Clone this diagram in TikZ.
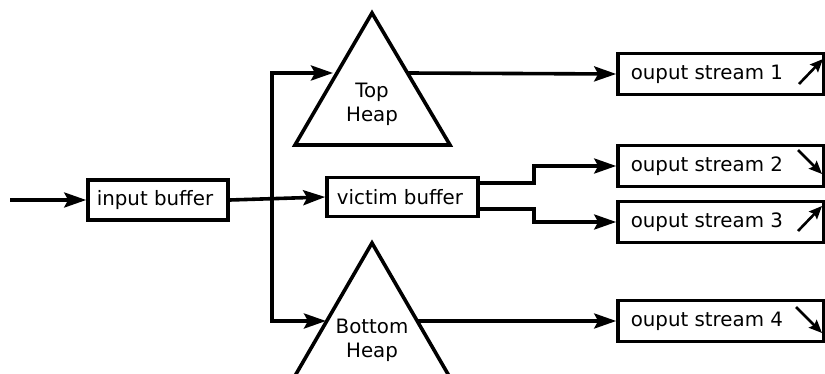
\documentclass[tikz,border=0pt]{standalone}
\usepackage{fontspec}
\setmainfont{DejaVu Sans}
\usetikzlibrary{arrows.meta}
\begin{document}
\begin{tikzpicture}[x=1pt,y=-1pt,
  line width=3.6pt,
  conn/.style={line width=3.6pt,-{Stealth[length=22pt,width=15pt,inset=4pt]}},
  plain/.style={line width=3.6pt},
  boxr/.style={draw,line width=3.6pt,rectangle,inner sep=0pt},
  lbl/.style={font=\fontsize{19.8}{23}\selectfont,inner sep=0pt},
  small/.style={line width=2.6pt,-{Stealth[length=13pt,width=11pt,inset=2pt]}}]
\useasboundingbox (0,0) rectangle (825,374);
% input buffer
\node[boxr,minimum width=140pt,minimum height=40pt] (ib) at (158,200) {};
\node[lbl] (ibt) at (155,200) {input buffer};
\coordinate (in) at (10,200);
\draw[conn] (in) -- (ib.west);
% victim buffer
\node[boxr,minimum width=151pt,minimum height=39pt] (vb) at (402.5,197) {};
\node[lbl] (vbt) at (400,197) {victim buffer};
\draw[conn] (ib.east) -- (vb.west);
% vertical bus
\coordinate (bt) at (272,73);
\coordinate (bb) at (272,321);
\draw[plain] (bt) -- (bb);
% heaps
\coordinate (tha) at (372,13);
\coordinate (thl) at (295,145);
\coordinate (thr) at (450,145);
\draw[line join=miter] (tha) -- (thr) -- (thl) -- cycle;
\node[lbl,align=center,font=\fontsize{19.8}{24}\selectfont] (tht) at (372,104) {Top\\Heap};
\coordinate (bha) at (372,243);
\coordinate (bhl) at (292,381);
\coordinate (bhr) at (452,381);
\draw[line join=miter] (bha) -- (bhr) -- (bhl) -- cycle;
\node[lbl,align=center,font=\fontsize{19.8}{24}\selectfont] (bht) at (372,340) {Bottom\\Heap};
\coordinate (thin) at (333,73);
\coordinate (thout) at (408,73);
\coordinate (bhin) at (326,321);
\coordinate (bhout) at (418,321);
\draw[conn] ([xshift=-1.8pt]bt) -- (thin);
\draw[conn] ([xshift=-1.8pt]bb) -- (bhin);
% output boxes
\foreach \n/\y in {1/74,2/166,3/222,4/321}{
  \node[boxr,minimum width=206pt,minimum height=41pt] (o\n) at (721,\y) {};
  \node[lbl,anchor=west] (o\n t) at (629,\y) {ouput stream \n};
}
\draw[conn] (thout) -- (o1.west);
\draw[conn] (bhout) -- (o4.west);
\draw[conn,line join=miter] (vb.east |- 0,183) -- (534,183) |- (o2.west);
\draw[conn,line join=miter] (vb.east |- 0,209) -- (534,209) |- (o3.west);
% small arrows
\coordinate (a1s) at (799,84); \coordinate (a1e) at (823,59);
\coordinate (a2s) at (798,150); \coordinate (a2e) at (822,174);
\coordinate (a3s) at (798,231); \coordinate (a3e) at (822,206);
\coordinate (a4s) at (796,307); \coordinate (a4e) at (822,333);
\draw[small] (a1s) -- (a1e);
\draw[small] (a2s) -- (a2e);
\draw[small] (a3s) -- (a3e);
\draw[small] (a4s) -- (a4e);
\end{tikzpicture}
\end{document}
